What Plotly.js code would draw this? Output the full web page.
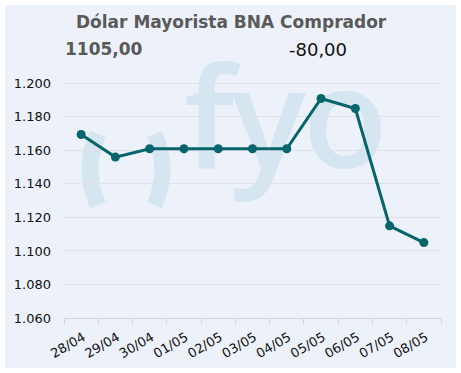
<!DOCTYPE html>
<html>
<head>
<meta charset="utf-8">
<script src="https://cdn.plot.ly/plotly-3.0.1.min.js"></script>
<style>
  html, body { margin: 0; padding: 0; background: #ffffff; width: 461px; height: 373px; overflow: hidden; }
  #chart { position: absolute; left: 5px; top: 5px; width: 451px; height: 363px; }
</style>
</head>
<body>
<div id="chart"></div>
<script>
// Data
const categories = ['28/04', '29/04', '30/04', '01/05', '02/05', '03/05', '04/05', '05/05', '06/05', '07/05', '08/05'];
const values = [1169.5, 1156, 1161, 1161, 1161, 1161, 1161, 1191, 1185, 1115, 1105];
const yTicks = [1060, 1080, 1100, 1120, 1140, 1160, 1180, 1200];
const chartTitle = 'Dólar Mayorista BNA Comprador';
const lastValueText = '1105,00';
const changeText = '-80,00';

const W = 451, H = 363, ML = 59, MR = 15, MT = 70, MB = 50;
const PW = W - ML - MR, PH = H - MT - MB;
const px = v => (v - ML) / PW;        // div x -> paper x
const py = v => 1 + (MT - v) / PH;    // div y -> paper y

const wm = '#d6e6f0';
const svg = `<svg xmlns="http://www.w3.org/2000/svg" width="${W}" height="${H}" viewBox="0 0 ${W} ${H}">` +
  `<path d="M93 129 Q77 164.5 93 200" fill="none" stroke="${wm}" stroke-width="17"/>` +
  `<path d="M149.5 129 Q165.5 164.5 149.5 200" fill="none" stroke="${wm}" stroke-width="16"/>` +
  `<text x="179" y="163" font-family="Open Sans" font-weight="600" font-size="139" fill="${wm}" letter-spacing="-3">fyo</text>` +
  `</svg>`;
const svgUri = 'data:image/svg+xml;charset=utf-8,' + encodeURIComponent(svg);

const trace = {
  type: 'scatter',
  mode: 'lines+markers',
  x: categories,
  y: values,
  line: { color: '#05646c', width: 3 },
  marker: { color: '#05646c', size: 9 },
  hoverinfo: 'x+y'
};

const layout = {
  width: W, height: H,
  margin: { l: ML, r: MR, t: MT, b: MB, pad: 0 },
  paper_bgcolor: '#edf1fa',
  plot_bgcolor: 'rgba(0,0,0,0)',
  showlegend: false,
  separators: ',.',
  font: { family: 'DejaVu Sans, Verdana, sans-serif', size: 13, color: '#111111' },
  xaxis: {
    type: 'category',
    range: [-0.5, categories.length - 0.5],
    tickangle: -30,
    tickson: 'boundaries',
    ticks: 'outside',
    ticklen: 5,
    tickcolor: '#d4d4d4',
    showline: true,
    linecolor: '#d4d4d4',
    linewidth: 1,
    showgrid: false,
    zeroline: false,
    ticklabelstandoff: 6,
    ticklabelshift: 2,
    tickfont: { size: 13, color: '#111111' }
  },
  yaxis: {
    range: [1060, 1205],
    tickvals: yTicks,
    tickformat: ',d',
    ticks: '',
    ticklabelstandoff: 12,
    showline: false,
    zeroline: false,
    gridcolor: '#dfe1e4',
    gridwidth: 1,
    tickfont: { size: 13, color: '#111111' }
  },
  images: [{
    source: svgUri,
    xref: 'paper', yref: 'paper',
    x: px(0), y: py(0),
    sizex: W / PW, sizey: H / PH,
    xanchor: 'left', yanchor: 'top',
    sizing: 'stretch',
    layer: 'below'
  }],
  annotations: [
    { text: '<b>' + chartTitle + '</b>', xref: 'paper', yref: 'paper', x: px(226), y: py(17),
      xanchor: 'center', yanchor: 'middle', showarrow: false,
      font: { family: 'DejaVu Sans, Verdana, sans-serif', size: 17, color: '#595959' } },
    { text: '<b>' + lastValueText + '</b>', xref: 'paper', yref: 'paper', x: px(58), y: py(44),
      xanchor: 'left', yanchor: 'middle', showarrow: false,
      font: { family: 'DejaVu Sans, Verdana, sans-serif', size: 17, color: '#595959' } },
    { text: changeText, xref: 'paper', yref: 'paper', x: px(282), y: py(44),
      xanchor: 'left', yanchor: 'middle', showarrow: false,
      font: { family: 'DejaVu Sans, Verdana, sans-serif', size: 18, color: '#111111' } }
  ]
};

Plotly.newPlot('chart', [trace], layout, { displayModeBar: false, staticPlot: true });
</script>
</body>
</html>
